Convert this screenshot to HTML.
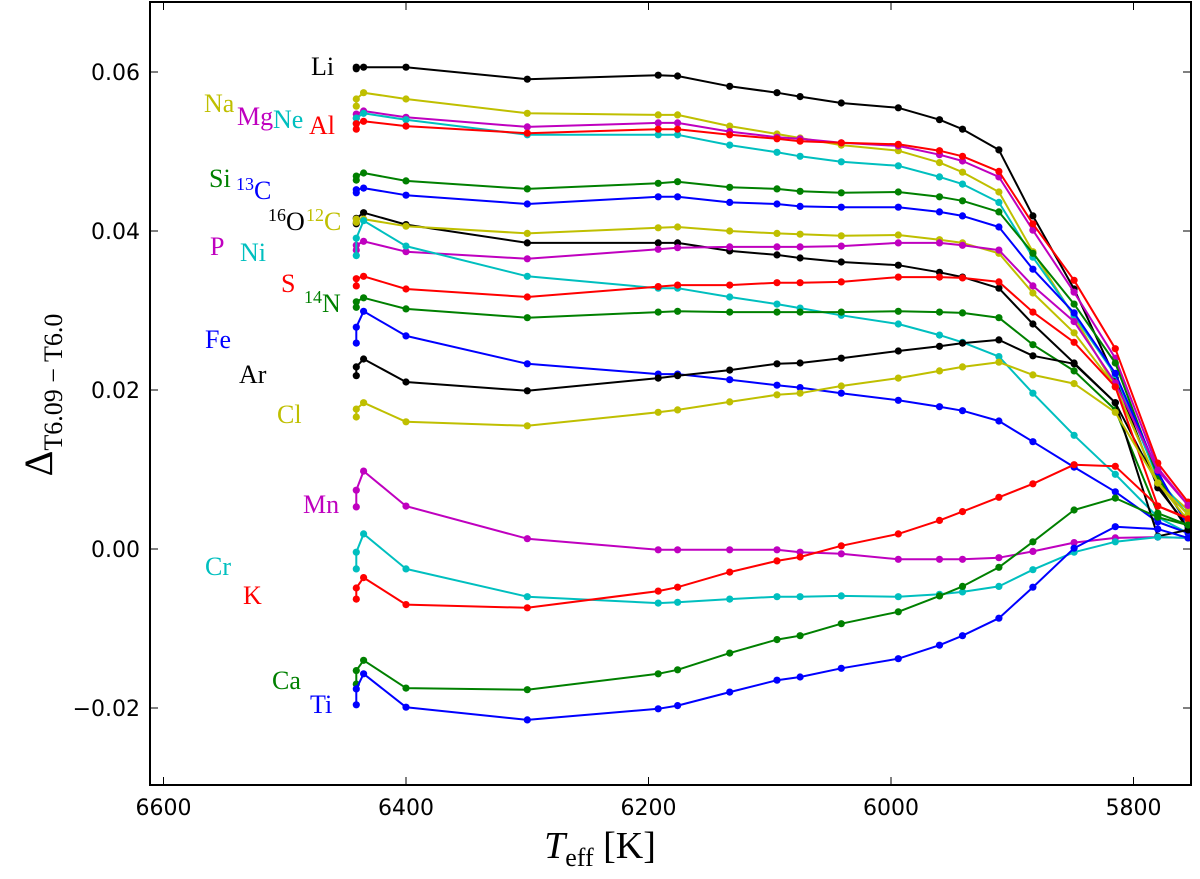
<!DOCTYPE html>
<html><head><meta charset="utf-8"><style>
html,body{margin:0;padding:0;background:#fff;}
svg{display:block;}
</style></head><body>
<svg id="chart" width="1200" height="879" viewBox="0 0 1200 879" xmlns="http://www.w3.org/2000/svg">
<g id="series"></g>
<g id="axes"></g>
<g id="labels"></g>
</svg>
<script>
const teff = [6441,6441,6435,6400,6300,6192,6176,6133,6094,6075,6041,5994,5960,5941,5911,5883,5849,5815,5780,5755];
const xTicks = [6600,6400,6200,6000,5800];
const yTicks = [-0.02,0.00,0.02,0.04,0.06];
const yTickLabels = ["\u22120.02","0.00","0.02","0.04","0.06"];
const names = ["Li","Na","Mg","Ne","Al","Si","13C","16O","12C","P","Ni","S","14N","Fe","Ar","Cl","Mn","Cr","K","Ca","Ti"];
const colors = {Li:"#000000",Na:"#bfbf00",Mg:"#bf00bf",Ne:"#00bfbf",Al:"#ff0000",Si:"#008000","13C":"#0000ff","16O":"#000000","12C":"#bfbf00",P:"#bf00bf",Ni:"#00bfbf",S:"#ff0000","14N":"#008000",Fe:"#0000ff",Ar:"#000000",Cl:"#bfbf00",Mn:"#bf00bf",Cr:"#00bfbf",K:"#ff0000",Ca:"#008000",Ti:"#0000ff"};
const vLi = [.0604,.0606,.0606,.0606,.0591,.0596,.0595,.0582,.0574,.0569,.0561,.0555,.0540,.0528,.0502,.0419,.0327,.0215,.0077,.0028];
const vNa = [.0557,.0566,.0574,.0566,.0548,.0546,.0546,.0532,.0522,.0517,.0508,.0501,.0486,.0474,.0449,.0374,.0292,.0204,.0083,.0049];
const vMg = [.0542,.0547,.0551,.0543,.0531,.0536,.0536,.0525,.0518,.0516,.0511,.0507,.0496,.0488,.0468,.0401,.0323,.0240,.0102,.0055];
const vNe = [.0535,.0542,.0548,.0540,.0521,.0521,.0521,.0508,.0499,.0494,.0487,.0482,.0468,.0459,.0436,.0367,.0294,.0219,.0089,.0043];
const vAl = [.0528,.0535,.0538,.0532,.0523,.0528,.0528,.0521,.0516,.0513,.0511,.0509,.0501,.0494,.0475,.0409,.0338,.0252,.0108,.0059];
const vSi = [.0464,.0469,.0473,.0463,.0453,.0460,.0462,.0455,.0453,.0450,.0448,.0449,.0443,.0438,.0424,.0372,.0308,.0234,.0091,.0030];
const v13C = [.0448,.0452,.0454,.0445,.0434,.0443,.0443,.0436,.0434,.0431,.0430,.0430,.0424,.0419,.0405,.0352,.0297,.0221,.0097,.0028];
const v16O = [.0409,.0416,.0423,.0408,.0385,.0385,.0385,.0375,.0370,.0366,.0361,.0357,.0348,.0342,.0328,.0283,.0234,.0184,.0081,.0024];
const v12C = [.0411,.0415,.0415,.0406,.0397,.0404,.0405,.0400,.0397,.0396,.0394,.0395,.0389,.0385,.0372,.0322,.0272,.0204,.0083,.0036];
const vP = [.0376,.0382,.0387,.0374,.0365,.0377,.0379,.0380,.0380,.0380,.0381,.0385,.0385,.0382,.0376,.0331,.0286,.0209,.0099,.0055];
const vNi = [.0369,.0391,.0413,.0381,.0343,.0328,.0328,.0317,.0308,.0303,.0294,.0283,.0269,.0260,.0242,.0196,.0143,.0094,.0040,.0020];
const vS = [.0331,.0340,.0343,.0327,.0317,.0330,.0332,.0332,.0335,.0335,.0336,.0342,.0342,.0341,.0336,.0298,.0260,.0204,.0054,.0039];
const v14N = [.0304,.0311,.0316,.0302,.0291,.0298,.0299,.0298,.0298,.0298,.0298,.0299,.0298,.0297,.0291,.0257,.0224,.0175,.0045,.0030];
const vFe = [.0259,.0279,.0299,.0268,.0233,.0220,.0220,.0213,.0206,.0203,.0196,.0187,.0179,.0174,.0161,.0135,.0103,.0072,.0034,.0020];
const vAr = [.0218,.0229,.0239,.0210,.0199,.0215,.0218,.0225,.0233,.0234,.0240,.0249,.0255,.0259,.0263,.0243,.0233,.0184,.0016,.0024];
const vCl = [.0166,.0176,.0184,.0160,.0155,.0172,.0175,.0185,.0194,.0196,.0205,.0215,.0224,.0229,.0235,.0219,.0208,.0172,.0083,.0043];
const vMn = [.0053,.0074,.0098,.0054,.0013,-.0001,-.0001,-.0001,-.0001,-.0004,-.0006,-.0013,-.0013,-.0013,-.0011,-.0003,.0008,.0014,.0015,.0014];
const vCr = [-.0025,-.0004,.0019,-.0025,-.0060,-.0068,-.0067,-.0063,-.0060,-.0060,-.0059,-.0060,-.0057,-.0054,-.0047,-.0026,-.0004,.0009,.0015,.0014];
const vK = [-.0063,-.0049,-.0036,-.0070,-.0074,-.0053,-.0048,-.0029,-.0015,-.0010,.0004,.0019,.0036,.0047,.0065,.0082,.0106,.0104,.0054,.0038];
const vCa = [-.0170,-.0153,-.0140,-.0175,-.0177,-.0157,-.0152,-.0131,-.0114,-.0109,-.0094,-.0079,-.0059,-.0047,-.0023,.0009,.0049,.0064,.0040,.0030];
const vTi = [-.0196,-.0176,-.0157,-.0199,-.0215,-.0201,-.0197,-.0180,-.0165,-.0161,-.0150,-.0138,-.0121,-.0109,-.0087,-.0048,.0001,.0028,.0025,.0014];
const seriesVals = {Li:vLi,Na:vNa,Mg:vMg,Ne:vNe,Al:vAl,Si:vSi,"13C":v13C,"16O":v16O,"12C":v12C,P:vP,Ni:vNi,S:vS,"14N":v14N,Fe:vFe,Ar:vAr,Cl:vCl,Mn:vMn,Cr:vCr,K:vK,Ca:vCa,Ti:vTi};

const NS="http://www.w3.org/2000/svg";
const PL=150, PR=1191, PT=2, PB=785;
function xs(t){ return 163.5 + (6600 - t) * 1.2125; }
function ys(v){ return 549 - v * 7950; }
function mk(tag, attrs, parent){ const e=document.createElementNS(NS,tag); for(const k in attrs) e.setAttribute(k, attrs[k]); parent.appendChild(e); return e; }

const sg = document.getElementById('series');
names.forEach(n => {
  const vals = seriesVals[n];
  const g = mk('g', {}, sg);
  
  
  const pts = vals.map((v,i) => xs(teff[i]).toFixed(1) + ',' + ys(v).toFixed(1)).join(' ');
  const line = mk('polyline', {points: pts, fill:'none', stroke: colors[n], 'stroke-width': 2, 'stroke-linejoin':'round'}, g);
  
  
  vals.forEach((v,i) => {
    const c = mk('circle', {cx: xs(teff[i]).toFixed(1), cy: ys(v).toFixed(1), r: 3.6, fill: colors[n]}, g);
    
    
  });
});

const ax = document.getElementById('axes');
const frame = mk('rect', {x:PL, y:PT, width:PR-PL, height:PB-PT, fill:'none', stroke:'#000', 'stroke-width':2}, ax);


xTicks.forEach(t => {
  const x = xs(t);
  mk('line', {x1:x, y1:PB, x2:x, y2:PB-8, stroke:'#000', 'stroke-width':1}, ax);
  mk('line', {x1:x, y1:PT, x2:x, y2:PT+8, stroke:'#000', 'stroke-width':1}, ax);
  const tx = mk('text', {x:x, y:815, 'text-anchor':'middle', 'font-family':'"DejaVu Sans","Liberation Sans",sans-serif', 'font-size':22}, ax);
  tx.textContent = String(t);
  
  
});
yTicks.forEach((v,i) => {
  const y = ys(v);
  mk('line', {x1:PL, y1:y, x2:PL+8, y2:y, stroke:'#000', 'stroke-width':1}, ax);
  mk('line', {x1:PR, y1:y, x2:PR-8, y2:y, stroke:'#000', 'stroke-width':1}, ax);
  const tx = mk('text', {x:140, y:y+8, 'text-anchor':'end', 'font-family':'"DejaVu Sans","Liberation Sans",sans-serif', 'font-size':22}, ax);
  tx.textContent = yTickLabels[i];
  
  
});
</script>
<svg style="position:absolute;left:0;top:0" width="1200" height="879" xmlns="http://www.w3.org/2000/svg">
<g font-family="'Liberation Serif',serif" font-size="26">
<text x="311" y="75" fill="#000">Li</text>
<text x="204" y="112" fill="#bfbf00">Na</text>
<text x="237" y="125" fill="#bf00bf">Mg</text>
<text x="273" y="128" fill="#00bfbf">Ne</text>
<text x="309" y="134" fill="#ff0000">Al</text>
<text x="209" y="187" fill="#008000">Si</text>
<text x="236" y="199" fill="#0000ff"><tspan font-size="18" dy="-9">13</tspan><tspan dy="9">C</tspan></text>
<text x="268" y="230" fill="#000"><tspan font-size="18" dy="-9">16</tspan><tspan dy="9">O</tspan></text>
<text x="306" y="230" fill="#bfbf00"><tspan font-size="18" dy="-9">12</tspan><tspan dy="9">C</tspan></text>
<text x="210" y="255" fill="#bf00bf">P</text>
<text x="240" y="261" fill="#00bfbf">Ni</text>
<text x="281" y="292" fill="#ff0000">S</text>
<text x="304" y="312" fill="#008000"><tspan font-size="18" dy="-9">14</tspan><tspan dy="9">N</tspan></text>
<text x="205" y="348" fill="#0000ff">Fe</text>
<text x="239" y="383" fill="#000">Ar</text>
<text x="277" y="423" fill="#bfbf00">Cl</text>
<text x="303" y="513" fill="#bf00bf">Mn</text>
<text x="205" y="575" fill="#00bfbf">Cr</text>
<text x="243" y="604" fill="#ff0000">K</text>
<text x="272" y="689" fill="#008000">Ca</text>
<text x="310" y="713" fill="#0000ff">Ti</text>
</g>
<text x="600" y="858" text-anchor="middle" font-family="'Liberation Serif',serif" font-size="38"><tspan font-style="italic">T</tspan><tspan font-size="26" dy="8">eff</tspan><tspan dy="-8"> [K]</tspan></text>
<text transform="translate(52,395) rotate(-90)" text-anchor="middle" font-family="'Liberation Serif',serif" font-size="40">Δ<tspan font-size="26" dy="10">T6.09 − T6.0</tspan></text>
</svg>
</body></html>
